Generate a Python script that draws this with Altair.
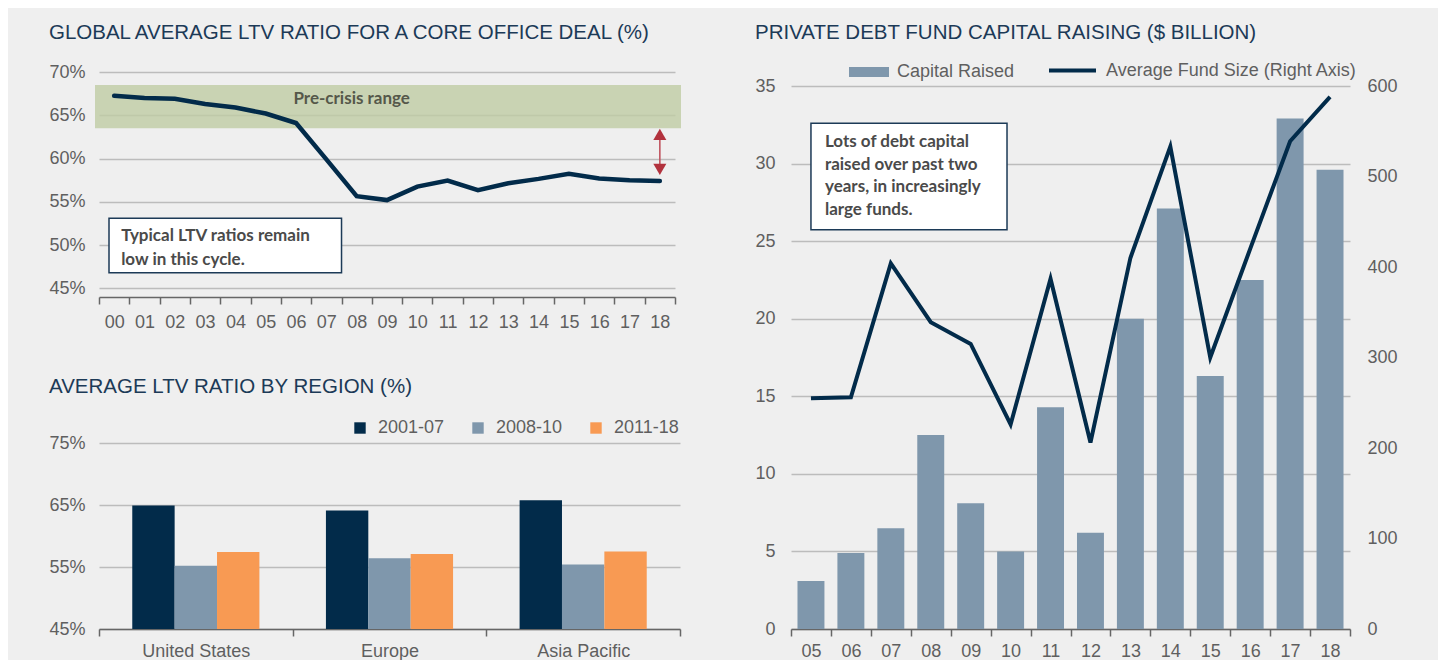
import altair as alt
import pandas as pd

# ---------------- data ----------------
years_a = ["00", "01", "02", "03", "04", "05", "06", "07", "08", "09",
           "10", "11", "12", "13", "14", "15", "16", "17", "18"]
ltv_global = [67.25, 67.0, 66.9, 66.3, 65.9, 65.2, 64.1, 59.9, 55.65, 55.2,
              56.75, 57.45, 56.35, 57.15, 57.65, 58.25, 57.7, 57.5, 57.4]
precrisis_range = [63.5, 68.5]

regions = ["United States", "Europe", "Asia Pacific"]
periods = ["2001-07", "2008-10", "2011-18"]
ltv_2001_07 = [64.9, 64.1, 65.75]
ltv_2008_10 = [55.2, 56.4, 55.4]
ltv_2011_18 = [57.4, 57.1, 57.5]

years_b = ["05", "06", "07", "08", "09", "10", "11", "12", "13", "14",
           "15", "16", "17", "18"]
capital_raised = [3.1, 4.9, 6.5, 12.5, 8.1, 5.0, 14.3, 6.2, 20.0, 27.1,
                  16.3, 22.5, 32.9, 29.6]
avg_fund_size = [255, 256, 404, 339, 315, 226, 387, 206, 410, 533,
                 300, 420, 539, 588]

note_a = "Typical LTV ratios remain\nlow in this cycle."
note_b = "Lots of debt capital\nraised over past two\nyears, in increasingly\nlarge funds."

# ---------------- style ----------------
FONT = "Liberation Sans"
BOLD = "Lato"
NAVY = "#022b4a"
STEEL = "#7f97ac"
ORANGE = "#f89a53"
TITLE_C = "#1c3a57"
LABEL_C = "#5f5f5f"
NOTE_C = "#4a4a4a"

# ---------------- top-left: global LTV line ----------------
W1, H1 = 576, 225
df_a = pd.DataFrame({"year": years_a, "ltv": ltv_global})

xa = alt.X("year:N", sort=years_a, title=None,
           scale=alt.Scale(type="band", domain=years_a, paddingInner=0, paddingOuter=0),
           axis=alt.Axis(labelAngle=0, tickBand="extent", tickSize=7, labelPadding=9,
                         labelOverlap=False, domainWidth=1.5, tickWidth=1.5))
ya_scale = alt.Scale(domain=[45, 70])
ya_axis = alt.Axis(values=[45, 50, 55, 60, 65, 70], labelExpr="datum.value + '%'",
                   grid=True, domain=False, ticks=False, labelPadding=14)

band = alt.Chart(pd.DataFrame({"lo": [precrisis_range[0]], "hi": [precrisis_range[1]]})).mark_rect(
    color="#bfcca4", opacity=0.8
).encode(
    y=alt.Y("lo:Q", scale=ya_scale, axis=ya_axis, title=None),
    y2="hi:Q",
    x=alt.value(-4), x2=alt.value(W1 + 6),
)

line_a = alt.Chart(df_a).mark_line(color=NAVY, strokeWidth=4.5, strokeCap="round").encode(
    x=xa, y=alt.Y("ltv:Q", scale=ya_scale, axis=ya_axis, title=None)
)

band_label = alt.Chart(pd.DataFrame({"year": ["08"], "v": [66.9], "t": ["Pre-crisis range"]})).mark_text(
    font=BOLD, fontWeight="bold", fontSize=17, color="#55584a", dx=-5
).encode(x=alt.X("year:N"), y=alt.Y("v:Q", title=None), text="t:N")

box_a = alt.Chart(pd.DataFrame({"x0": ["00"], "x1": ["08"], "y0": [46.8], "y1": [53.1]})).mark_rect(
    fill="white", stroke=TITLE_C, strokeWidth=1.5
).encode(
    x=alt.X("x0:N", bandPosition=0.33), x2=alt.X2("x1:N", bandPosition=0),
    y=alt.Y("y0:Q", title=None), y2="y1:Q",
)
text_a = alt.Chart(pd.DataFrame({"x": ["00"], "y": [51.1], "t": [note_a]})).mark_text(
    font=BOLD, fontWeight="bold", fontSize=17, color=NOTE_C, align="left",
    baseline="middle", lineBreak="\n", lineHeight=24
).encode(x=alt.X("x:N", bandPosition=0.73), y=alt.Y("y:Q", title=None), text="t:N")

arrow_rule = alt.Chart(pd.DataFrame({"year": ["18"], "a": [63.1], "b": [58.5]})).mark_rule(
    color="#c05560", strokeWidth=1.6
).encode(x=alt.X("year:N"), y=alt.Y("a:Q", title=None), y2="b:Q")
arrow_heads = alt.Chart(pd.DataFrame({"year": ["18", "18"], "v": [62.8, 58.75],
                                      "s": ["triangle-up", "triangle-down"]})).mark_point(
    filled=True, color="#b2323d", size=170, opacity=1
).encode(x=alt.X("year:N"), y=alt.Y("v:Q", title=None),
         shape=alt.Shape("s:N", scale=None, legend=None))

top_left = alt.layer(band, line_a, band_label, box_a, text_a, arrow_rule, arrow_heads).properties(
    width=W1, height=H1,
    title=alt.Title("GLOBAL AVERAGE LTV RATIO FOR A CORE OFFICE DEAL (%)", offset=20)
)

# ---------------- bottom-left: LTV by region ----------------
W2, H2 = 581, 186
rows = []
for i, r in enumerate(regions):
    for p, vals in zip(periods, [ltv_2001_07, ltv_2008_10, ltv_2011_18]):
        rows.append({"region": r, "period": p, "ltv": vals[i]})
df_b = pd.DataFrame(rows)

bottom_left = alt.Chart(df_b).mark_bar(clip=True).encode(
    x=alt.X("region:N", sort=regions, title=None,
            scale=alt.Scale(type="band", domain=regions, paddingInner=0, paddingOuter=0),
            axis=alt.Axis(labelAngle=0, tickBand="extent", tickSize=7, labelPadding=6,
                          domainWidth=1.5, tickWidth=1.5)),
    xOffset=alt.XOffset("period:N", sort=periods,
                        scale=alt.Scale(domain=periods, paddingInner=0, paddingOuter=0.785)),
    y=alt.Y("ltv:Q", title=None, scale=alt.Scale(domain=[45, 75], zero=False),
            axis=alt.Axis(values=[45, 55, 65, 75], labelExpr="datum.value + '%'",
                          grid=True, domain=False, ticks=False, labelPadding=14)),
    color=alt.Color("period:N", sort=periods,
                    scale=alt.Scale(domain=periods, range=[NAVY, STEEL, ORANGE]),
                    legend=alt.Legend(title=None, orient="none", direction="horizontal",
                                      legendX=252, legendY=-24, symbolType="square",
                                      symbolSize=130, symbolStrokeWidth=0, labelOffset=9,
                                      columnPadding=24, columns=3)),
).properties(width=W2, height=H2,
             title=alt.Title("AVERAGE LTV RATIO BY REGION (%)", offset=22))

# ---------------- right: private debt fund capital raising ----------------
# plot area starts 14px above the "35" gridline so that it shares the row top
# with the left-hand panel; the axis domains are stretched by the same ratio.
H3_AXIS = 543
TOP_GAP = 14
W3, H3 = 559, H3_AXIS + TOP_GAP
left_max = 35 * H3 / H3_AXIS
right_max = 600 * H3 / H3_AXIS

df_c = pd.DataFrame({"year": years_b, "cap": capital_raised, "size": avg_fund_size,
                     "s1": "Capital Raised", "s2": "Average Fund Size (Right Axis)"})
xc = alt.X("year:N", sort=years_b, title=None,
           scale=alt.Scale(type="band", domain=years_b, paddingInner=0, paddingOuter=0),
           axis=alt.Axis(labelAngle=0, tickBand="extent", tickSize=7, labelPadding=6,
                         labelOverlap=False, domainWidth=1.5, tickWidth=1.5))
yc_scale = alt.Scale(domain=[0, left_max], nice=False)

bars_c = alt.Chart(df_c).mark_bar(width=alt.RelativeBandSize(0.675)).encode(
    x=xc,
    y=alt.Y("cap:Q", title=None, scale=yc_scale,
            axis=alt.Axis(values=[0, 5, 10, 15, 20, 25, 30, 35], grid=True, domain=False,
                          ticks=False, labelPadding=16)),
    color=alt.Color("s1:N", scale=alt.Scale(range=[STEEL]),
                    legend=alt.Legend(title=None, orient="none", legendX=58, legendY=-20,
                                      symbolType="M-1,-0.25H1V0.25H-1Z", symbolSize=1600,
                                      symbolStrokeWidth=0, labelOffset=8, labelLimit=400)),
)
box_c = alt.Chart(pd.DataFrame({"x0": ["05"], "x1": ["10"], "y0": [25.74], "y1": [32.6]})).mark_rect(
    fill="white", stroke=TITLE_C, strokeWidth=1.5
).encode(
    x=alt.X("x0:N", bandPosition=0.5), x2=alt.X2("x1:N", bandPosition=0.41),
    y=alt.Y("y0:Q", title=None), y2="y1:Q",
)
text_c = alt.Chart(pd.DataFrame({"x": ["05"], "y": [31.36], "t": [note_b]})).mark_text(
    font=BOLD, fontWeight="bold", fontSize=17, color=NOTE_C, align="left",
    baseline="middle", lineBreak="\n", lineHeight=22.5
).encode(x=alt.X("x:N", bandPosition=0.85), y=alt.Y("y:Q", title=None), text="t:N")

left_c = alt.layer(bars_c, box_c, text_c)

line_c = alt.Chart(df_c).mark_line(strokeWidth=4).encode(
    x=xc,
    y=alt.Y("size:Q", title=None, scale=alt.Scale(domain=[0, right_max], nice=False),
            axis=alt.Axis(orient="right", values=[0, 100, 200, 300, 400, 500, 600],
                          grid=False, domain=False, ticks=False, labelPadding=17)),
    stroke=alt.Stroke("s2:N", scale=alt.Scale(range=[NAVY]),
                      legend=alt.Legend(title=None, orient="none", legendX=256, legendY=-27,
                                        symbolType="stroke", symbolSize=2209,
                                        symbolStrokeWidth=4, labelOffset=8, labelLimit=400)),
)

right = alt.layer(left_c, line_c).resolve_scale(y="independent").properties(
    width=W3, height=H3,
    title=alt.Title("PRIVATE DEBT FUND CAPITAL RAISING ($ BILLION)", offset=2)
)

left_col = alt.vconcat(top_left, bottom_left, spacing=45).resolve_scale(
    color="independent"
).resolve_legend(color="independent")

chart = alt.hconcat(left_col, right, spacing=73).resolve_scale(
    color="independent", stroke="independent"
).resolve_legend(
    color="independent", stroke="independent"
).properties(
    padding={"left": 40, "top": 14, "right": 40, "bottom": 0}
).configure(
    background="#efefef"
).configure_view(
    stroke=None
).configure_axis(
    labelFont=FONT, labelFontSize=18, labelColor=LABEL_C,
    gridColor="#bcbcbc", gridWidth=1.5, domainColor="#666666", tickColor="#666666"
).configure_title(
    font=FONT, fontSize=20.5, color=TITLE_C, fontWeight="normal", anchor="start", frame="bounds"
).configure_legend(
    labelFont=FONT, labelFontSize=18, labelColor=LABEL_C, padding=0
)

chart.save("out.html", embed_options={"renderer": "svg", "actions": False})
